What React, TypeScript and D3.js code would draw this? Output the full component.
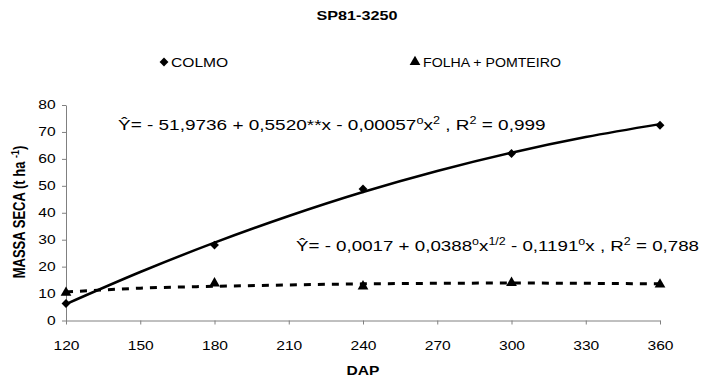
import React, { useEffect, useRef } from "react";
import * as d3 from "d3";

const dap = [120, 180, 240, 300, 360];
const colmo = [6.3, 28, 48.8, 62, 72.5];
const folha = [10.3, 13.8, 12.7, 14.0, 13.4];

// trend lines read at every 30 DAP
const trendX = [120, 150, 180, 210, 240, 270, 300, 330, 360];
const colmoTrend = [6.1, 18.0, 28.9, 38.8, 47.7, 55.5, 62.3, 68.1, 72.9];
const folhaTrend = [10.6, 12.0, 12.7, 13.2, 13.6, 13.8, 13.9, 13.8, 13.6];

const xTicks = [120, 150, 180, 210, 240, 270, 300, 330, 360];
const yTicks = [0, 10, 20, 30, 40, 50, 60, 70, 80];

// [text, superscript?]
const eq1Parts: [string, boolean][] = [
  ["Ŷ= - 51,9736 + 0,5520**x - 0,00057", false],
  ["o", true],
  ["x", false],
  ["2", true],
  [" , R", false],
  ["2", true],
  [" = 0,999", false],
];
const eq2Parts: [string, boolean][] = [
  ["Ŷ= - 0,0017 + 0,0388", false],
  ["o", true],
  ["x", false],
  ["1/2", true],
  [" - 0,1191", false],
  ["o", true],
  ["x , R", false],
  ["2", true],
  [" = 0,788", false],
];

const FONT = "'Liberation Sans', Arial, sans-serif";
const SX = 1.3; // the original picture is stretched sideways

const App = () => {
  const svgRef = useRef<SVGSVGElement>(null);

  useEffect(() => {
    const svg = d3.select(svgRef.current);
    svg.selectAll("*").remove();

    const x = d3.scaleLinear().domain([120, 360]).range([66, 660]);
    const y = d3.scaleLinear().domain([0, 80]).range([320.5, 105]);

    const label = (tx, ty, txt, size, bold = false, anchor = "start", sx = SX) =>
      svg
        .append("text")
        .attr("transform", `translate(${tx},${ty}) scale(${sx},1)`)
        .attr("text-anchor", anchor)
        .style("font-size", size + "px")
        .style("font-weight", bold ? "bold" : "normal")
        .text(txt);

    // title
    label(357, 20, "SP81-3250", 12, true, "middle", 1.35);

    // legend
    const diamond = d3.symbol().type(d3.symbolDiamond2).size(50);
    const triangle = d3.symbol().type(d3.symbolTriangle).size(50);

    svg.append("path").attr("d", diamond()).attr("transform", "translate(164,62)");
    label(171, 67, "COLMO", 12);
    svg.append("path").attr("d", triangle()).attr("transform", "translate(415,62)");
    label(423, 67, "FOLHA + POMTEIRO", 12, false, "start", 1.18);

    // y axis
    const yAxis = svg
      .append("g")
      .attr("transform", "translate(66,0)")
      .call(d3.axisLeft(y).tickValues(yTicks).tickSize(4).tickSizeOuter(0).tickPadding(4));
    yAxis.select(".domain").attr("stroke", "#808080");
    yAxis.selectAll(".tick line").attr("stroke", "#808080");
    yAxis
      .selectAll(".tick text")
      .attr("transform", `scale(${SX},1)`)
      .style("font-size", "12px")
      .style("font-family", FONT)
      .attr("fill", "#000");

    // x axis
    const xAxis = svg
      .append("g")
      .attr("transform", `translate(0,${y(0)})`)
      .call(d3.axisBottom(x).tickValues(xTicks).tickSize(4).tickSizeOuter(0).tickPadding(17));
    xAxis.select(".domain").attr("stroke", "#808080");
    xAxis.selectAll(".tick line").attr("stroke", "#808080");
    xAxis
      .selectAll(".tick text")
      .attr("transform", `scale(${SX},1)`)
      .style("font-size", "12px")
      .style("font-family", FONT)
      .attr("fill", "#000");

    // axis titles
    label(363, 375, "DAP", 12, true, "middle");

    const yl = svg
      .append("text")
      .attr("transform", `translate(25,212) scale(${SX},1) rotate(-90)`)
      .attr("text-anchor", "middle")
      .style("font-weight", "bold")
      .style("font-size", "13px");
    yl.append("tspan").text("MASSA SECA (t ha  ");
    yl.append("tspan").attr("dy", -5).style("font-size", "9px").text("-1");
    yl.append("tspan").attr("dy", 5).text(")");

    // trend lines
    const line = d3
      .line<number>()
      .x((d, i) => x(trendX[i]))
      .y((d) => y(d))
      .curve(d3.curveMonotoneX);

    svg
      .append("path")
      .attr("d", line(folhaTrend))
      .attr("fill", "none")
      .attr("stroke", "#000")
      .attr("stroke-width", 3)
      .attr("stroke-dasharray", "7,7");

    svg
      .append("path")
      .attr("d", line(colmoTrend))
      .attr("fill", "none")
      .attr("stroke", "#000")
      .attr("stroke-width", 2.5);

    // markers
    svg
      .selectAll("path.colmo")
      .data(colmo)
      .enter()
      .append("path")
      .attr("class", "colmo")
      .attr("d", diamond())
      .attr("transform", (d, i) => `translate(${x(dap[i])},${y(d)})`);

    svg
      .selectAll("path.folha")
      .data(folha)
      .enter()
      .append("path")
      .attr("class", "folha")
      .attr("d", triangle())
      .attr("transform", (d, i) => `translate(${x(dap[i])},${y(d)})`);

    // equations
    const equation = (tx, ty, parts, sx) => {
      const t = svg
        .append("text")
        .attr("transform", `translate(${tx},${ty}) scale(${sx},1)`)
        .style("font-size", "15px");
      let up = false;
      parts.forEach(([s, sup]) => {
        const dy = sup === up ? 0 : sup ? -6 : 6;
        t.append("tspan")
          .attr("dy", dy)
          .style("font-size", sup ? "10px" : "15px")
          .text(s);
        up = sup;
      });
    };
    equation(118, 130, eq1Parts, 1.265);
    equation(296, 251, eq2Parts, 1.25);
  }, []);

  return (
    <svg
      ref={svgRef}
      width={712}
      height={380}
      style={{ position: "absolute", left: 0, top: 0, fontFamily: FONT, background: "#fff" }}
    ></svg>
  );
};

export default App;
